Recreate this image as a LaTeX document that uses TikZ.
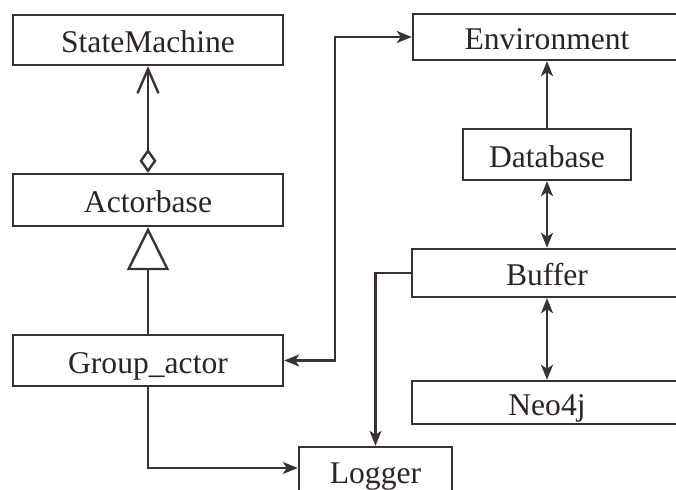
\documentclass[tikz,border=0pt]{standalone}
\usepackage{fontspec}
\setmainfont{Liberation Serif}
\usetikzlibrary{arrows.meta}
\definecolor{umlink}{HTML}{2B2422}
\definecolor{umlline}{HTML}{3A3230}

\begin{document}
\begin{tikzpicture}[x=0.5pt,y=-0.5pt,line cap=round,
    cls/.style={draw=umlline,line width=1.2pt,fill=white,text=umlink,
      font=\fontsize{15.8}{18}\selectfont,inner sep=0pt,
      text height=13pt,text depth=0pt,minimum width=#1},
    link/.style={draw=umlline,line width=1.2pt},
    >={Stealth[length=7.5pt,width=6pt,inset=2pt]}]
    \useasboundingbox (0,0) rectangle (676,490);
    \clip (0,0) rectangle (676,490);
    \node[cls=135pt,minimum height=25pt] (sm) at (148,40) {StateMachine};
    \node[cls=135pt,minimum height=26pt] (ab) at (148,200) {Actorbase};
    \node[cls=135pt,minimum height=25.5pt] (ga) at (148,360.5) {Group\_actor};
    \node[cls=134pt,minimum height=23pt] (env) at (547,37) {Environment};
    \node[cls=84pt,minimum height=25.5pt] (db) at (547,154.5) {Database};
    \node[cls=135pt,minimum height=24pt] (buf) at (547,273) {Buffer};
    \node[cls=135pt,minimum height=21.5pt] (neo) at (547,402.5) {Neo4j};
    \node[cls=76.5pt,minimum height=24pt] (log) at (375.5,471) {Logger};
    \coordinate (bend) at (335,0);
    \draw[link,{Diamond[open,length=12pt,width=8.5pt]}-{Straight Barb[length=12pt,width=10.5pt]}] (ab.north) -- (sm.south);
    \draw[link,-{Triangle[open,length=21.5pt,width=21pt]}] (ga.north) -- (ab.south);
    \draw[link,<->] (ga.east) -- (ga.east -| bend) -- (bend |- env.west) -- (env.west);
    \draw[link,->] (db.north) -- (env.south);
    \draw[link,<->] (db.south) -- (buf.north);
    \draw[link,<->] (buf.south) -- (neo.north);
    \draw[link,->] (buf.west) -| (log.north);
    \draw[link,->] (ga.south) |- ([yshift=1.5pt]log.west);
  \end{tikzpicture}
\end{document}
